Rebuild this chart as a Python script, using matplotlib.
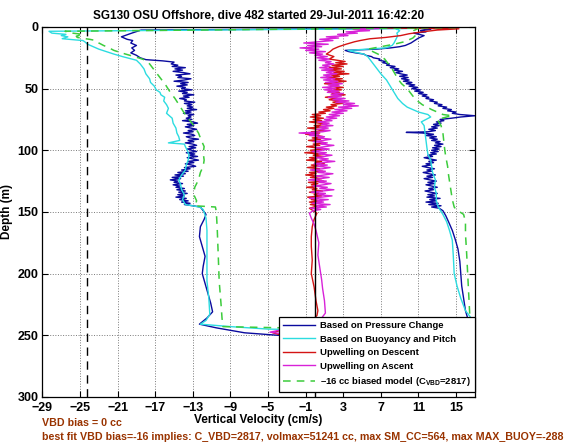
import matplotlib
matplotlib.use("Agg")
import matplotlib.pyplot as plt

plt.rcParams['font.family'] = ['Liberation Sans', 'DejaVu Sans']
plt.rcParams['font.weight'] = 'bold'
plt.rcParams['mathtext.fontset'] = 'custom'
plt.rcParams['mathtext.rm'] = 'Liberation Sans:bold'
plt.rcParams['mathtext.bf'] = 'Liberation Sans:bold'

title = "SG130 OSU Offshore, dive 482 started 29-Jul-2011 16:42:20"
xlabel = "Vertical Velocity (cm/s)"
ylabel = "Depth (m)"
xticks = [-29, -25, -21, -17, -13, -9, -5, -1, 3, 7, 11, 15]
yticks = [0, 50, 100, 150, 200, 250, 300]
labels = ["Based on Pressure Change", "Based on Buoyancy and Pitch",
          "Upwelling on Descent", "Upwelling on Ascent",
          "\u201316 cc biased model (C$_{\\mathbf{VBD}}$=2817)"]
note1 = "VBD bias = 0 cc"
note2 = ("best fit VBD bias=-16 implies: C_VBD=2817, volmax=51241 cc, "
         "max SM_CC=564, max MAX_BUOY=-288")
vbd_ref_line = -24.25
zero_line = 0.0

# ---------------- Based on Pressure Change (blue) ----------------
blue_depth = [1.0, 2.5, 5, 8, 10, 11, 13, 15, 17, 19, 21, 23, 25, 26.5, 27.5, 28.5, 30,
    31, 32, 33, 34, 35, 36, 37, 38, 39, 40, 41, 42, 43, 44, 45, 46, 47, 48, 49, 50,
    51, 52, 53, 54, 55, 56, 57, 58, 59, 60, 61, 62, 63, 64, 65, 66, 67, 68, 69, 70,
    71, 72, 73, 74, 75, 76, 77, 78, 79, 80, 81, 82, 83, 84, 85, 86, 87, 88, 89, 90,
    91, 92, 93, 94, 95, 96, 97, 98, 99, 100, 101, 102, 103, 104, 105, 106, 107, 108,
    109, 110, 111, 112, 113, 114, 115, 116, 117, 118, 119, 120, 121, 122, 123, 124,
    125, 126, 127, 128, 129, 130, 131, 132, 133, 134, 135, 136, 137, 138, 139, 140,
    141, 142, 143, 144, 145, 146, 148, 152, 156, 162, 170, 178, 186, 194, 200, 208,
    216, 224, 231, 236, 241, 244, 248, 250, 251, 249, 245, 238,
    230, 220, 210, 200, 190, 180, 172, 165, 158, 153, 149, 147,
    146, 145, 144, 143, 142, 141, 140, 139, 138, 137, 136, 135, 134, 133, 132, 131,
    130, 129, 128, 127, 126, 125, 124, 123, 122, 121, 120, 119, 118, 117, 116, 115,
    114, 113, 112, 111, 110, 109, 108, 107, 106, 105, 104, 103, 102, 101, 100,
    99, 98, 97, 96, 95, 94, 93, 92, 91, 90, 89, 88, 87, 86, 85.5, 85, 84, 83, 82, 81,
    80, 79, 78, 77, 76, 75, 74, 73, 72, 71, 70, 69, 68, 67, 66, 65, 64, 63, 62, 61,
    60, 59, 58, 57, 56, 55, 54, 53, 52, 51, 50, 49, 48, 47, 46, 45, 44, 43, 42, 41,
    40, 39, 38, 37, 36, 35, 34, 33, 32, 31, 30, 29, 28, 27, 26, 25, 24, 23, 22, 21,
    20, 19, 18.5, 18, 17, 16, 15, 13, 11, 9, 7, 5, 4, 3, 2, 1, 0.5]
blue_vel = [12.0, -18.5, -19.5, -20.6, -20.0, -19.4, -19.6, -19.0, -19.5, -19.2, -19.6,
    -19.0, -18.6, -18.0, -16.2, -15.0, -15.3,
    -14.6, -15.2, -13.8, -14.9, -14.1, -15.1, -14.0, -13.3, -14.8, -14.2, -14.6, -13.2,
    -13.9, -15.0, -13.5, -14.3, -13.6, -14.7, -13.8, -14.2, -13.1, -14.5, -13.6, -14.1,
    -12.9, -14.0, -13.4, -14.4, -13.7, -13.9,
    -12.8, -13.9, -13.1, -13.6, -13.0, -13.6, -12.6, -13.8, -13.2, -14.0, -12.9, -13.5,
    -13.2, -13.7, -13.1, -14.1, -13.0, -12.5, -13.6, -12.9, -13.8, -13.2, -12.6, -13.5,
    -13.0, -14.0, -13.1, -12.8, -13.7, -13.3, -12.4, -13.5, -12.9, -13.8, -13.0, -12.6,
    -13.4, -12.7, -13.6, -13.1,
    -12.6, -13.7, -12.8, -13.4, -12.5, -13.6, -13.0, -12.4, -13.5, -12.9, -13.8, -13.1,
    -12.7, -13.9, -13.3, -14.2, -13.5, -14.6, -13.8, -14.9,
    -14.0, -15.2, -14.3, -15.4, -14.6, -15.0, -14.1, -15.1, -14.4, -14.8, -13.9, -14.7,
    -13.8, -14.5, -13.6, -14.6, -13.9, -14.8, -13.7, -14.4, -13.5, -14.2, -13.3, -13.9,
    -13.0, -12.2,
    -12.0, -11.6, -11.8, -12.2, -12.3, -12.0, -11.7, -11.9, -12.0, -11.7, -11.4, -11.1,
    -10.9, -11.5, -12.3, -10.5, -7.5, -4.0, 5.0, 14.0, 16.2, 16.3,
    16.0, 15.8, 15.6, 15.5, 15.4, 15.2, 14.9, 14.6, 14.2, 13.9, 13.6, 13.2,
    12.4, 13.4, 12.1, 13.1, 11.8, 12.9, 12.2, 13.3, 11.9, 12.7, 12.0, 13.0, 12.3, 11.7,
    12.6, 12.1, 13.0, 12.4, 11.8, 12.7, 12.0, 12.9,
    12.2, 11.6, 12.5, 11.9, 12.8, 12.1, 11.5, 12.4, 11.9, 12.7, 12.0, 11.4, 12.3, 11.8,
    12.6, 12.1, 12.9, 12.2, 11.6, 12.5, 12.0, 12.9, 12.3, 13.1, 12.4,
    13.2, 12.5, 13.4, 12.7, 13.6, 12.8, 13.3, 12.4, 13.0, 12.2, 12.9, 11.8, 12.6, 11.4,
    9.7, 12.0, 12.8, 12.1, 13.0, 12.4,
    13.2, 12.6, 13.4, 12.9, 13.7, 13.3, 14.5, 15.5, 17.0, 15.4, 14.6, 15.0, 14.1, 14.5,
    13.6, 14.0, 13.1, 13.5, 12.7, 13.0,
    12.2, 12.6, 11.8, 12.1, 11.4, 11.9, 11.0, 11.5, 10.6, 11.2, 10.3, 10.9, 10.0, 10.6,
    9.7, 10.3, 9.4, 10.0, 9.2, 9.9,
    9.0, 9.8, 9.1, 8.6, 9.3, 8.4, 8.9, 8.0, 8.5, 7.6, 7.9, 7.2, 7.5, 6.8, 6.9, 6.2, 6.0,
    5.4, 5.2, 4.3,
    3.6, 3.2, 5.0, 6.5, 8.0, 9.0, 9.6, 10.2, 10.6, 11.0, 11.6, 10.5, 11.8, 11.2, 12.3,
    11.0, 12.0]

# ---------------- Based on Buoyancy and Pitch (cyan) ----------------
cyan_depth = [1.0, 3.5, 5, 6, 7, 8, 9.5, 10.5, 11, 12, 14, 16, 18, 20, 22, 24, 25, 27,
    30, 34, 38, 42, 45, 48, 51, 53, 55, 57, 60, 63, 66, 70, 74, 78, 82, 86, 89, 92, 94,
    95, 97, 100, 104, 108, 112, 116, 120, 124, 128, 132, 136, 140, 144, 146, 148, 155,
    165, 180, 195, 206, 220, 233, 238, 241, 243, 245, 246, 245, 243, 238,
    230, 220, 210, 200, 185, 173, 165, 158, 152, 146, 141, 135, 130, 124, 118, 113, 108,
    103, 98, 92, 86, 80, 77, 75, 73, 71, 69, 67, 65, 62, 58, 53, 48, 43, 38, 33, 28, 24,
    22, 20, 19, 18, 17, 15, 13, 10, 7, 5, 3, 1]
cyan_vel = [14.0, -28.3, -28.0, -26.5, -27.0, -26.3, -26.9, -25.5, -24.7, -24.5, -24.2,
    -23.6, -23.0, -22.2, -21.4, -20.5, -20.0, -19.0,
    -18.6, -18.2, -18.0, -17.6, -17.5, -17.1, -16.9, -16.5, -16.4, -16.0, -16.1, -15.8,
    -15.6, -15.8, -15.2, -15.1, -14.8, -14.7, -14.5, -14.4, -15.6,
    -13.9, -13.8, -13.6, -13.4, -13.5, -13.7, -13.8, -14.2, -14.5, -14.3, -14.2, -13.9,
    -14.1, -13.8, -12.3, -11.9, -11.6,
    -11.5, -11.5, -11.5, -11.5, -11.3, -11.2, -11.6, -12.2, -9.0, -5.0, 2.0, 10.0, 16.5,
    16.8,
    16.0, 15.5, 15.1, 14.8, 14.7, 14.6, 14.3, 14.0, 13.6, 13.1, 12.9, 12.9, 12.7, 12.8,
    12.5, 12.4, 12.3, 12.0, 11.9, 11.8, 11.7, 11.6, 11.3, 11.8, 12.3, 12.0, 11.0, 10.4,
    9.8, 9.3, 8.8, 8.4, 8.0, 7.6, 7.0, 6.5, 6.0, 5.6, 5.2, 4.0, 3.5, 5.5, 7.5, 8.2, 8.4,
    8.6, 8.8, 8.7, 9.0, 8.5]

# ---------------- Upwelling on Descent (red) ----------------
red_depth = [0.5, 1.5, 2.5, 4, 5.5, 7, 8.5, 9.6, 11, 12, 14, 16, 18, 20, 22, 24, 26, 28,
    29, 30, 31, 32, 33, 34, 35, 36, 37, 38, 39, 40, 41, 42, 43, 44, 45, 46, 47, 48, 49,
    50, 51, 52, 53, 54, 55, 56, 57, 58, 59, 60, 61, 62, 63, 64, 65, 66, 67, 68, 69, 70,
    71, 72, 73, 74, 75, 76, 77, 78, 79, 80, 81, 82, 83, 84, 85, 86, 87, 88, 89, 90, 91,
    92, 93, 94, 95, 96, 97, 98, 99, 100, 101, 102, 103, 104, 105, 106, 107, 108, 109,
    110, 111, 112, 113, 114, 115, 116, 117, 118, 119, 120, 121, 122, 123, 124, 125, 126,
    127, 128, 129, 130, 131, 132, 133, 134, 135, 136, 137, 138, 139, 140, 141, 142, 143,
    144, 145, 147, 151, 156, 162, 170, 178, 189, 200, 211, 222, 230, 234, 238, 243, 248,
    250]
red_vel = [3.0, 15.3, 13.0, 11.4, 10.0, 9.1, 7.5, 5.8, 4.8, 4.2, 3.3, 2.5, 1.9, 1.6, 1.2,
    2.0, 1.5, 3.2, 2.2, 3.4, 1.8, 3.0, 1.5, 2.8, 1.2, 3.1, 2.0, 3.6, 1.7, 2.6, 1.3, 2.9,
    1.9, 3.3, 2.1, 1.0, 2.5, 1.6, 3.0, 1.9, 2.8, 1.4, 2.6, 1.8, 3.2, 2.0, 1.1, 2.4, 1.5,
    2.7, 1.9, 2.9, 1.7, 2.3, 1.2, 2.0, 0.9, 1.6, 0.4, 1.1, -0.3, 0.6, -0.5, 0.9, -0.2,
    0.7, -0.6, 0.4, 1.2, -0.1, 0.8, -0.8, 0.3, 1.0, -0.4, 0.5, -1.0, 0.2, 0.9, -0.3, 0.6,
    -0.7, 0.4, 1.1, -0.2, 0.5, -0.9, 0.1, 0.8, -0.5, 0.3, -1.1, 0.6, -0.2, 0.9, -0.6, 0.2,
    -0.9, 0.7, 0.0, 1.0, -0.4, 0.4, -0.8, 0.5, -0.3, 0.8, -0.6, 0.1, -1.0, 0.4, -0.5, 0.7,
    -0.2, 0.9, -0.7, 0.3, -0.4, 0.6, -0.9, 0.2, -0.3, 0.8, -0.6, 0.4, -0.1, 0.7, -0.8,
    0.3, -0.4, 0.5, -0.6, 0.2, -0.5, 0.3, -0.6, 0.2, -0.1, -0.3, -0.4, -0.4, -0.3, -0.4,
    -0.1, 0.1, 0.3, 0.2, -0.3, -2.5, -4.5, -3.5]

# ---------------- Upwelling on Ascent (magenta) ----------------
mag_depth = [249, 247.5, 243, 237, 232, 222, 212, 205, 195, 185, 175, 165, 160, 155, 151,
    149, 148, 147, 146, 145, 144, 143, 142, 141, 140, 139, 138, 137, 136, 135, 134, 133,
    132, 131, 130, 129, 128, 127, 126, 125, 124, 123, 122, 121, 120, 119, 118, 117, 116,
    115, 114, 113, 112, 111, 110, 109, 108, 107, 106, 105, 104, 103, 102, 101, 100, 99,
    98, 97, 96, 95, 94, 93, 92, 91, 90, 89, 88, 87, 86, 85, 84, 83, 82, 81, 80, 79, 78,
    77, 76, 75, 74, 73, 72, 71, 70, 69, 68, 67, 66, 65, 64, 63, 62, 61, 60, 59, 58, 57,
    56, 55, 54, 53, 52, 51, 50, 49, 48, 47, 46, 45, 44, 43, 42, 41, 40, 39, 38, 37, 36,
    35, 34, 33, 32, 31, 30, 29, 28, 27, 26, 25, 24, 23, 22, 21, 20, 19, 18, 17, 16, 15,
    14, 13, 12, 11, 10, 9, 8, 7, 6, 5, 4, 3, 2, 1.2, 0.5]
mag_vel = [-3.2, -4.8, -2.0, 0.6, 1.1, 1.0, 0.8, 0.7, 0.5, 0.3, 0.4, 0.1, -0.1, -0.4,
    -0.6, -0.2, 0.6, -0.5, 1.2, 0.1, 1.6, -0.3, 0.9, 0.2, 1.4, -0.6, 0.7, 1.8, 0.3, 1.1,
    -0.4, 0.8, 2.0, 0.5, 1.3, -0.2, 0.9, 1.7, 0.4, 1.2, -0.7, 0.6, 1.5, 0.0, 1.0, 1.9,
    0.3, 1.1, -0.5, 0.8, 1.6, 0.2, 1.3, -0.1, 0.9, 2.1, 0.5, 1.4, 0.0, 1.0, 1.8, 0.4, 1.2,
    -0.3, 0.7, 1.5, 0.1, 1.1, 2.0, 0.6, 1.3, -0.2, 0.9, 1.7, 0.3, 1.0, -0.6, 0.4, -1.7,
    0.8, 1.6, 0.2, 1.4, 0.5, 1.9, 0.7, 1.5, 0.3, 1.8, 1.0, 2.3, 1.2, 2.6, 1.5, 3.0, 1.8,
    3.4, 2.1, 3.9, 2.5, 4.6, 3.0, 4.2, 2.2, 3.6, 1.9, 3.2, 1.4, 2.8, 1.7, 3.0, 1.3, 2.5,
    1.0, 2.2, 0.8, 2.6, 1.4, 2.9, 1.1, 2.4, 0.9, 2.1, 0.6, 1.8, 0.9, 2.3, 1.2, 2.0, 0.7,
    1.9, 0.5, 1.6, 0.8, 2.0, 1.1, 1.7, 0.4, 1.5, 0.2, 1.3, 0.0, 0.8, -0.6, 1.1, -1.0,
    0.4, -1.6, 0.7, -0.8, 1.4, -1.2, 0.3, 1.9, 0.5, 2.5, 1.2, 3.5, 2.4, 4.5, 3.3, 5.8,
    4.1, 6.8, 5.0]

# ---------------- -16 cc biased model (green dashed) ----------------
green_depth = [0.5, 3.5, 5, 6, 7.5, 8.5, 10, 11, 13, 15, 17, 19, 21, 23, 25, 27, 30, 34,
    38, 42, 47, 53, 58, 64, 70, 75, 80, 86, 92, 97, 102, 108, 113, 118, 124, 130, 136,
    141, 145, 146, 150, 165, 185, 206, 225, 236, 243, 244.5, 244, 240,
    225, 210, 195, 180, 168, 158, 152, 148, 146, 140, 130, 120, 113, 105, 100, 93, 86,
    80, 75, 73, 72, 71, 67, 63, 60, 56, 50, 46, 42, 38, 34, 30, 26, 22, 18, 16, 14, 12,
    9, 6, 3, 1]
green_vel = [15.0, -26.6, -25.8, -24.7, -25.4, -25.3, -24.0, -23.3, -23.0, -22.5, -21.9,
    -21.4, -20.6, -19.7, -18.8, -18.0, -17.6, -17.2, -16.8, -16.4, -15.9, -15.4, -14.9,
    -14.4, -13.9, -13.4, -12.9, -12.4, -12.1, -11.8, -11.9, -11.8, -11.9, -12.2, -12.4,
    -12.8, -12.9, -12.6, -12.8, -10.6, -10.5, -10.4, -10.3, -10.2, -10.0, -9.9, -9.8,
    0.0, 16.4, 16.5,
    16.4, 16.3, 16.2, 16.1, 16.0, 16.0, 15.8, 15.0, 14.8, 14.6, 14.4, 14.2, 14.1, 13.9,
    13.8, 13.7, 13.6, 13.4, 13.0, 14.0, 14.6, 13.6, 12.4, 11.4, 10.9, 10.4, 9.8, 9.2,
    8.8, 8.5, 8.2, 7.8, 7.4, 6.7, 5.6, 7.0, 8.4, 9.5, 10.4, 10.8, 10.5, 11.0]

fig = plt.figure(figsize=(5.66, 4.42), dpi=100)
ax = fig.add_axes([0.075, 0.102, 0.764, 0.837])

c_blue = '#0a0a9e'
c_cyan = '#2cdce0'
c_red = '#d41414'
c_mag = '#d822d8'
c_green = '#3ccc3c'

ax.plot(blue_vel, blue_depth, color=c_blue, lw=1.0, label=labels[0])
ax.plot(cyan_vel, cyan_depth, color=c_cyan, lw=1.0, label=labels[1])
ax.plot(red_vel, red_depth, color=c_red, lw=1.0, label=labels[2])
ax.plot(mag_vel, mag_depth, color=c_mag, lw=1.0, label=labels[3])
ax.plot(green_vel, green_depth, color=c_green, lw=1.1, ls=(0, (5, 4)), label=labels[4])

ax.axvline(vbd_ref_line, color='k', lw=1.0, ls=(0, (6, 4)))
ax.axvline(zero_line, color='k', lw=1.0)

ax.set_xlim(-29, 17)
ax.set_ylim(300, 0)
ax.set_xticks(xticks)
ax.set_yticks(yticks)
ax.grid(True, color='#7a7a7a', ls=':', lw=0.7)
ax.tick_params(direction='in', length=4, labelsize=9.0, top=True, right=True)
ax.tick_params(axis='x', pad=3.5)
ax.tick_params(axis='y', pad=3)
for lab in ax.get_xticklabels() + ax.get_yticklabels():
    lab.set_fontweight('bold')
for sp in ax.spines.values():
    sp.set_linewidth(0.9)

ax.set_title(title, fontsize=8.5, fontweight='bold', pad=6)
ax.set_xlabel(xlabel, fontsize=8.5, fontweight='bold', labelpad=0)
ax.set_ylabel(ylabel, fontsize=8.5, fontweight='bold', labelpad=3)

leg = ax.legend(loc='lower right', bbox_to_anchor=(1.0, 0.012),
                prop={'weight': 'bold', 'size': 6.8}, frameon=True, fancybox=False,
                edgecolor='k', framealpha=1, handlelength=3.4, borderpad=0.45,
                labelspacing=0.48, handletextpad=0.5, borderaxespad=0.0)
leg.get_frame().set_linewidth(0.9)

fig.text(0.075, 0.043, note1, color='#993300', fontsize=7.7, fontweight='bold', va='center')
fig.text(0.075, 0.012, note2, color='#993300', fontsize=7.7, fontweight='bold', va='center')

fig.savefig('out.png', dpi=100)
